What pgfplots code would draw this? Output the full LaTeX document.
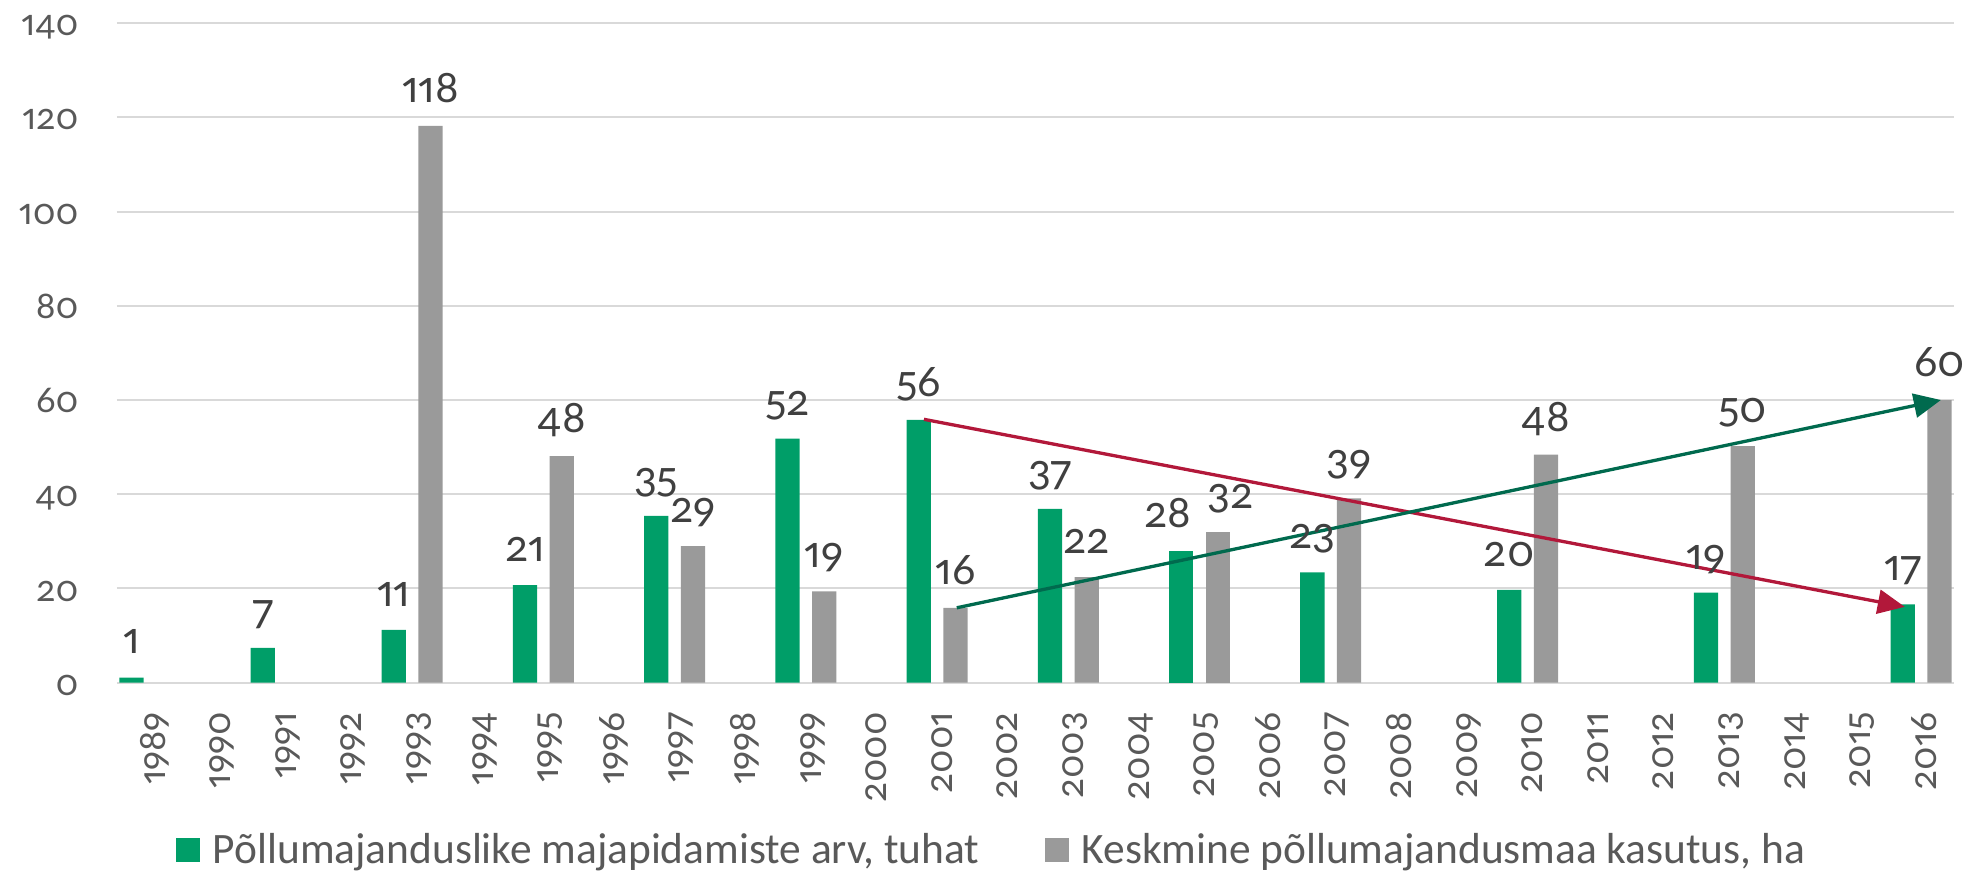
\documentclass[border=0pt]{standalone}
\usepackage{fontspec}
\setmainfont{Carlito}
\newfontfamily\numfont{Lato}[Numbers={OldStyle,Proportional}]
\usepackage{pgfplots}
\pgfplotsset{compat=1.18}
\usetikzlibrary{arrows.meta}
\definecolor{barGreen}{HTML}{009E68}
\definecolor{barGrey}{HTML}{9A9A9A}
\definecolor{arrRed}{HTML}{B2183A}
\definecolor{arrGreen}{HTML}{006A4E}
\definecolor{tickGrey}{HTML}{595959}
\definecolor{lblGrey}{HTML}{404040}
\definecolor{gridGrey}{HTML}{D9D9D9}
\begin{document}
\begin{tikzpicture}
\begin{axis}[
  scale only axis, width=918.5pt, height=329.8pt,
  xmin=-0.5, xmax=27.5, ymin=0, ymax=140,
  ytick={0,20,...,140},
  xtick={0,...,27},
  xticklabels={1989,1990,1991,1992,1993,1994,1995,1996,1997,1998,1999,2000,2001,2002,2003,2004,2005,2006,2007,2008,2009,2010,2011,2012,2013,2014,2015,2016},
  axis line style={draw=none},
  major tick length=0pt,
  ymajorgrids, grid style={gridGrey, line width=1pt},
  /pgf/number format/assume math mode=true,
  yticklabel style={font=\numfont\fontsize{18}{22}\selectfont, text=tickGrey, inner sep=0pt, anchor=base east, xshift=-19pt, yshift=-6.3pt},
  xticklabel style={font=\numfont\fontsize{18.5}{22}\selectfont, text=tickGrey, inner sep=0pt, xshift=7.6pt, yshift=-14.5pt, rotate=90, anchor=base east},
  nodes near coords={\pgfmathprintnumber[fixed,precision=0]{\pgfplotspointmeta}},
  every node near coord/.append style={font=\numfont\fontsize{21.5}{25}\selectfont, text=lblGrey, anchor=base, inner sep=0pt, yshift=11.8pt},
  legend style={at={(0.0321,-0.2543)}, anchor=west, draw=none, inner sep=0pt, outer sep=0pt, legend columns=2, font=\fontsize{21.7}{26}\selectfont, text=tickGrey, nodes={inner sep=0pt},
    /tikz/every odd column/.append style={column sep=6.5pt},
    /tikz/every even column/.append style={column sep=32.5pt}},
  legend cell align=left,
]
\addplot[ybar, bar width=0.37, bar shift=0pt, fill=barGreen, draw=none,
  legend image code/.code={\fill[barGreen] (0pt,-6pt) rectangle (12pt,6pt);}]
  coordinates {(-0.28,1.1) (1.72,7.4) (3.72,11.2) (5.72,20.7) (7.72,35.4) (9.72,51.8) (11.72,55.8) (13.72,36.9) (17.72,23.4) (20.72,19.7) (23.72,19.1) (26.72,16.6)};
\addlegendentry{Põllumajanduslike majapidamiste arv, tuhat}
\addplot[ybar, bar width=0.37, bar shift=0pt, fill=barGrey, draw=none,
  legend image code/.code={\fill[barGrey] (0pt,-6pt) rectangle (12pt,6pt);}]
  coordinates {(4.28,118.2) (6.28,48.1) (8.28,29.0) (10.28,19.4) (12.28,15.9) (14.28,22.4) (18.28,39.1) (21.28,48.4) (24.28,50.2) (27.28,60.0)};
\addlegendentry{Keskmine põllumajandusmaa kasutus, ha}
% 2005: labels pushed apart as in the reference
\addplot[ybar, bar width=0.37, bar shift=0pt, fill=barGreen, draw=none, forget plot,
  every node near coord/.append style={xshift=-6.5pt}]
  coordinates {(15.72,27.9)};
\addplot[ybar, bar width=0.37, bar shift=0pt, fill=barGrey, draw=none, forget plot,
  every node near coord/.append style={xshift=6.5pt}]
  coordinates {(16.28,31.9)};
\draw[arrRed, line width=1.65pt, -{Triangle[length=13.5pt,width=12pt]}] (axis cs:11.80,55.9) -- (axis cs:26.75,16.1);
\draw[arrGreen, line width=1.65pt, -{Triangle[length=13.5pt,width=12pt]}] (axis cs:12.30,15.9) -- (axis cs:27.30,60);
\end{axis}
\pgfresetboundingbox
\path (-58.5pt,-94.15pt) rectangle (925pt,341.35pt);
\end{tikzpicture}
\end{document}
